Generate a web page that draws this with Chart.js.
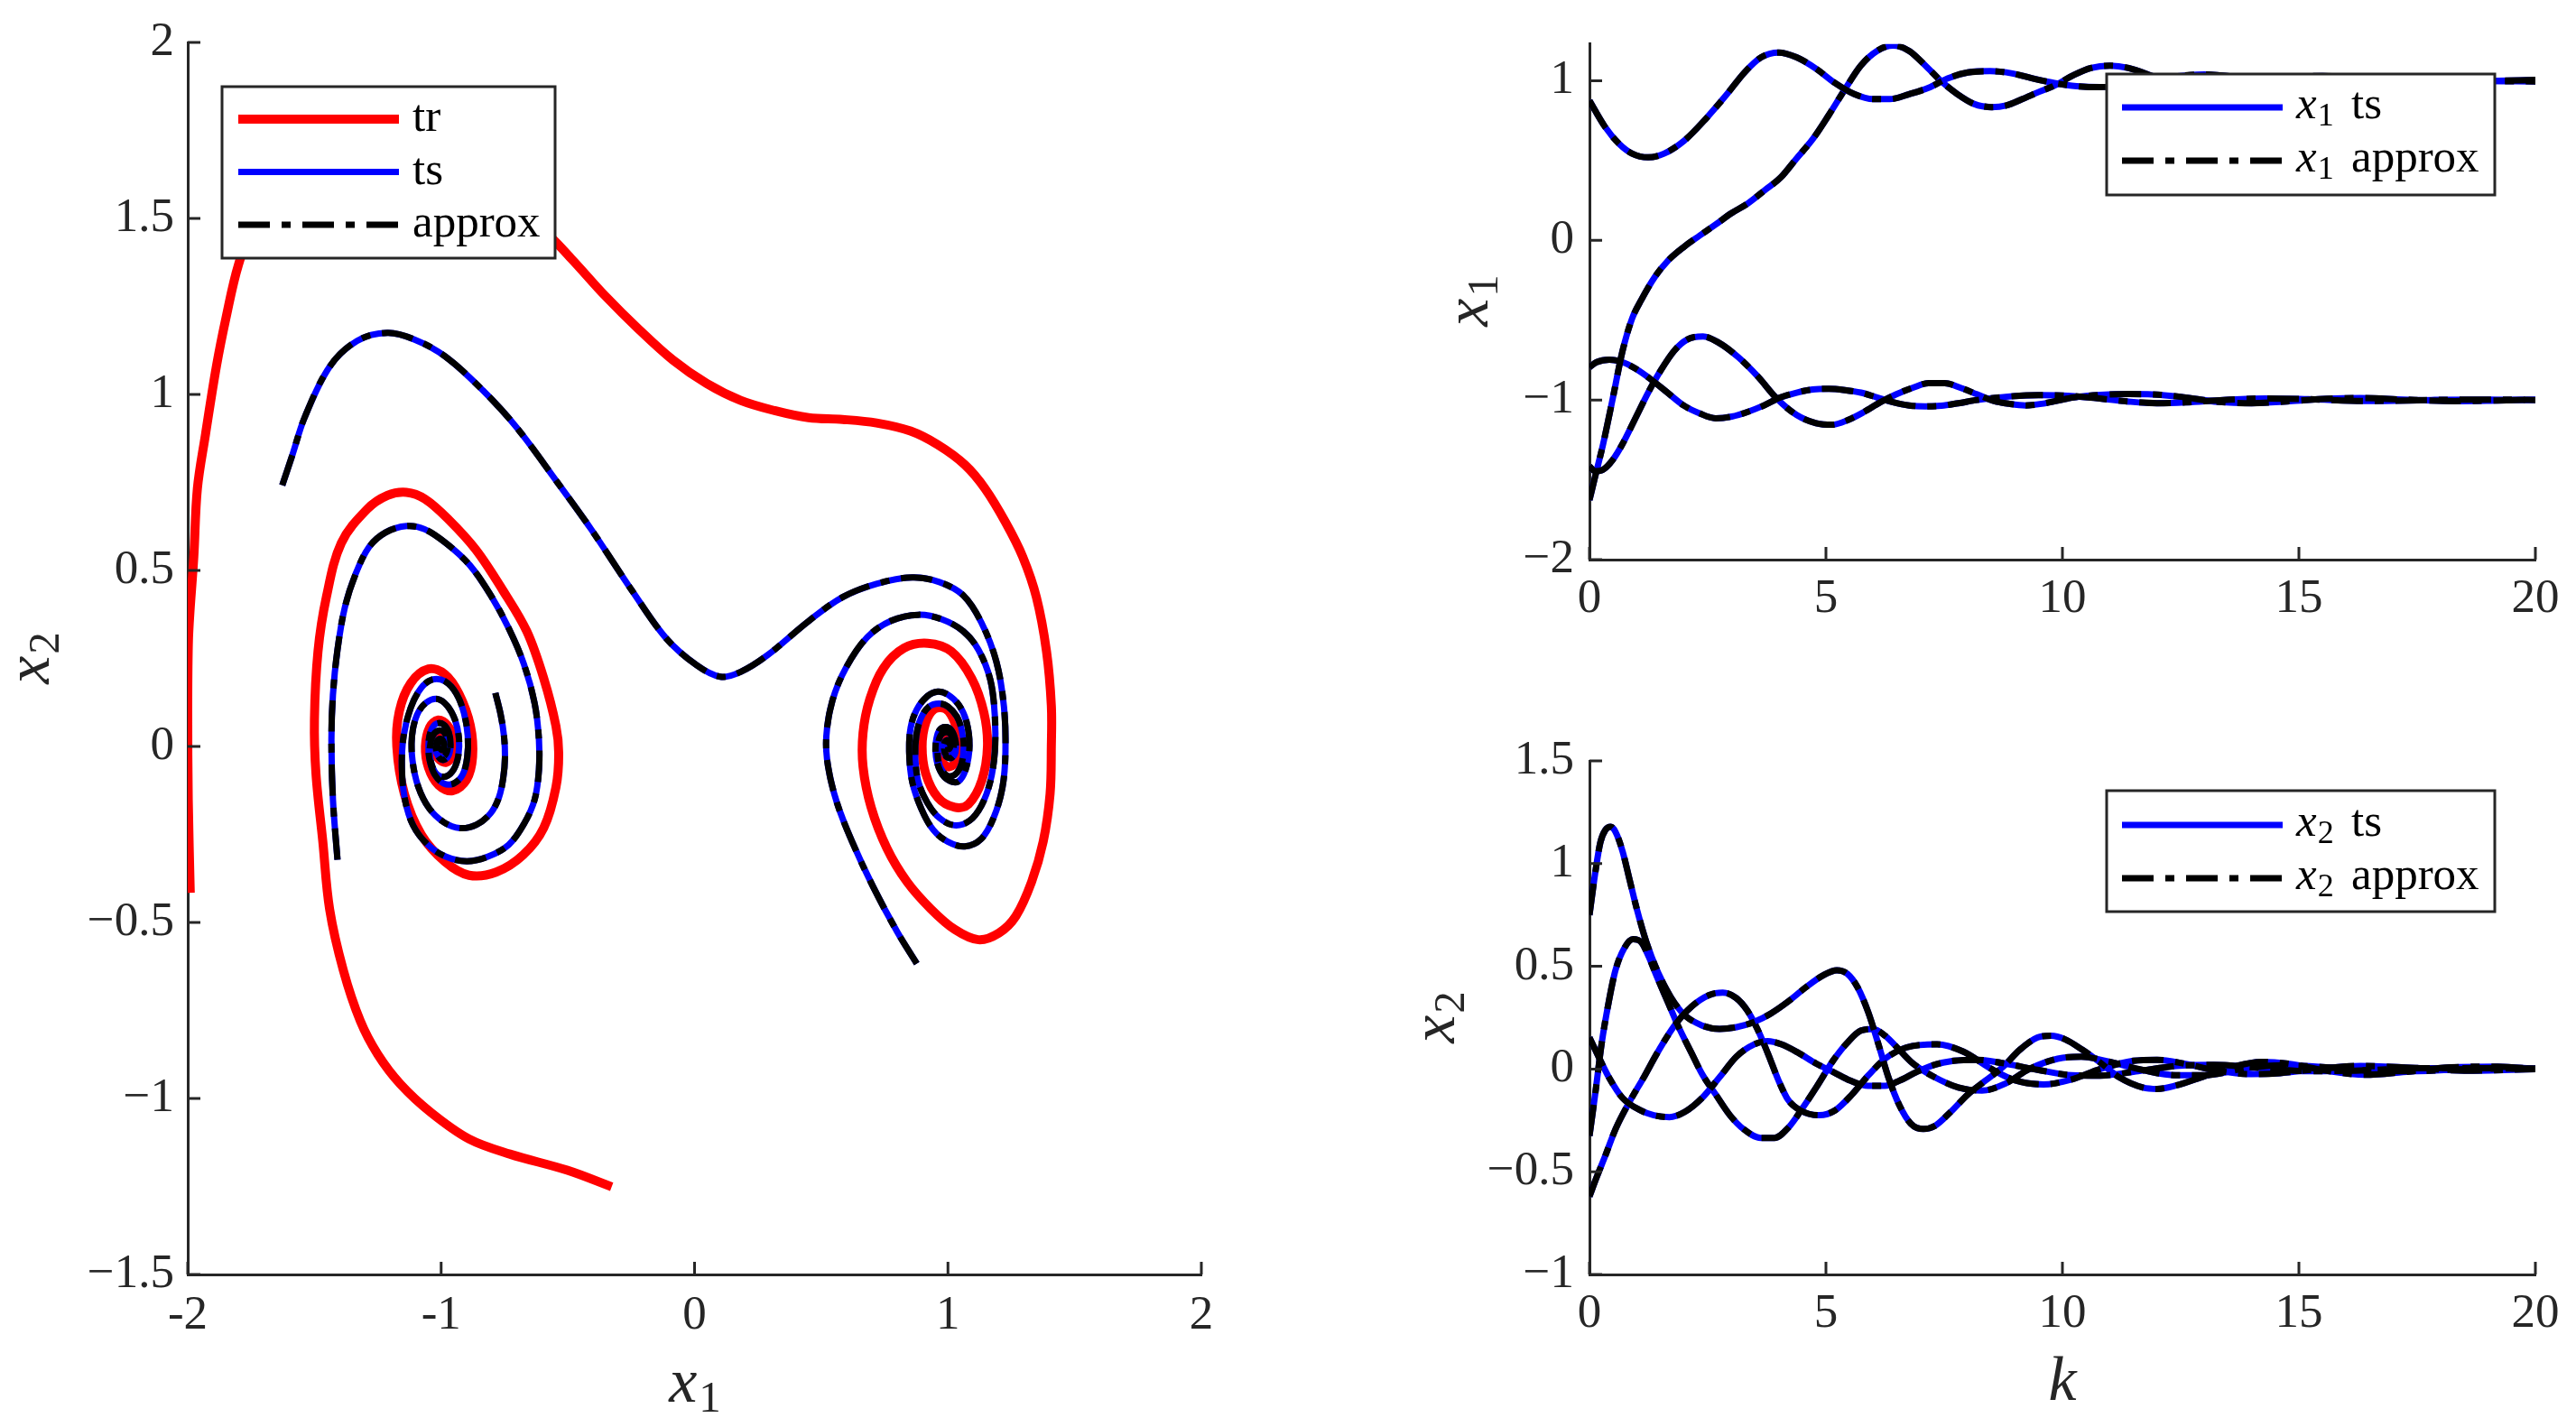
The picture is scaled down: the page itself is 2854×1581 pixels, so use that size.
<!DOCTYPE html>
<html><head><meta charset="utf-8">
<script src="https://cdn.jsdelivr.net/npm/chart.js@4.4.1/dist/chart.umd.min.js"></script>
<style>
html,body{margin:0;padding:0;background:#fff;}
body{width:2854px;height:1581px;position:relative;overflow:hidden;}
canvas{position:absolute;display:block;}
</style></head>
<body>
<canvas id="cPhase" width="1420" height="1581" style="left:0;top:0;width:1420px;height:1581px"></canvas>
<canvas id="cX1" width="1354" height="700" style="left:1500px;top:0;width:1354px;height:700px"></canvas>
<canvas id="cX2" width="1354" height="821" style="left:1500px;top:760px;width:1354px;height:821px"></canvas>
<script>
// ===================== DATA =====================
// Phase portrait: training trajectories (tr)
const trA_x1 = [-1.990,-1.998,-2.000,-1.997,-1.976,-1.962,-1.930,-1.887,-1.850,-1.800,-1.720,-1.600,-1.400,-1.200,-1.000,-0.800,-0.595,-0.488,-0.354,-0.220,-0.086,0.048,0.182,0.316,0.450,0.584,0.718,0.852,0.960,1.067,1.147,1.228,1.295,1.349,1.389,1.408,1.408,1.403,1.376,1.330,1.268,1.201,1.120,1.027,0.933,0.839,0.759,0.697,0.665,0.665,0.692,0.745,0.826,0.920,1.013,1.094,1.142,1.156,1.134,1.081,1.027,0.960,0.912,0.898,0.912,0.946,0.992,1.027,1.046,1.035,1.005,0.978,0.965,0.970,0.990,1.010,1.018,1.010,0.997,0.990,0.997,1.003];
const trA_x2 = [-0.416,-0.150,0.100,0.308,0.539,0.732,0.886,1.079,1.214,1.368,1.520,1.620,1.680,1.670,1.630,1.560,1.464,1.387,1.281,1.185,1.098,1.031,0.983,0.954,0.934,0.929,0.919,0.896,0.857,0.800,0.732,0.636,0.539,0.424,0.270,0.116,0.000,-0.135,-0.270,-0.385,-0.482,-0.530,-0.549,-0.520,-0.462,-0.385,-0.289,-0.173,-0.058,0.039,0.135,0.222,0.279,0.293,0.270,0.193,0.096,0.000,-0.096,-0.164,-0.173,-0.145,-0.077,0.000,0.067,0.106,0.106,0.067,0.000,-0.040,-0.058,-0.045,-0.010,0.022,0.035,0.025,0.000,-0.015,-0.018,-0.005,0.006,0.000];
const trB_x1 = [-0.327,-0.502,-0.729,-0.890,-1.040,-1.160,-1.250,-1.319,-1.386,-1.440,-1.467,-1.494,-1.500,-1.486,-1.453,-1.394,-1.292,-1.212,-1.137,-1.064,-0.971,-0.863,-0.756,-0.662,-0.595,-0.547,-0.536,-0.547,-0.595,-0.676,-0.783,-0.890,-0.984,-1.078,-1.145,-1.175,-1.165,-1.120,-1.050,-0.985,-0.930,-0.885,-0.876,-0.900,-0.955,-1.010,-1.050,-1.062,-1.045,-1.012,-0.975,-0.950,-0.955,-0.980,-1.010,-1.025,-1.015,-0.995,-0.982,-0.988,-1.000,-1.004,-1.000];
const trB_x2 = [-1.251,-1.204,-1.158,-1.115,-1.040,-0.960,-0.875,-0.780,-0.636,-0.463,-0.270,-0.077,0.077,0.270,0.424,0.578,0.674,0.713,0.722,0.703,0.645,0.559,0.443,0.327,0.193,0.058,-0.019,-0.116,-0.231,-0.308,-0.357,-0.366,-0.328,-0.251,-0.135,0.000,0.100,0.180,0.220,0.205,0.150,0.060,-0.030,-0.095,-0.126,-0.110,-0.060,0.000,0.055,0.075,0.060,0.020,-0.025,-0.045,-0.035,-0.005,0.022,0.028,0.010,-0.012,-0.010,0.002,0.000];

// Phase portrait: test trajectories (ts, approx overlaps)
const ts1_x1 = [-1.627,-1.587,-1.539,-1.440,-1.332,-1.212,-1.105,-0.984,-0.836,-0.702,-0.542,-0.408,-0.247,-0.113,0.008,0.102,0.182,0.289,0.450,0.584,0.718,0.859,0.966,1.061,1.132,1.191,1.221,1.227,1.215,1.180,1.132,1.067,1.000,0.942,0.895,0.859,0.847,0.853,0.877,0.919,0.960,1.000,1.043,1.073,1.085,1.070,1.040,1.000,0.970,0.953,0.952,0.965,0.990,1.015,1.030,1.030,1.015,0.995,0.983,0.985,0.997,1.008,1.010,1.003,1.000];
const ts1_x2 = [0.742,0.828,0.934,1.079,1.152,1.175,1.156,1.108,1.012,0.906,0.751,0.617,0.443,0.308,0.231,0.198,0.212,0.260,0.356,0.424,0.462,0.480,0.467,0.429,0.352,0.241,0.113,-0.015,-0.117,-0.203,-0.262,-0.284,-0.271,-0.237,-0.177,-0.100,-0.015,0.054,0.105,0.143,0.156,0.147,0.118,0.071,0.002,-0.065,-0.100,-0.095,-0.070,-0.030,0.010,0.045,0.055,0.045,0.015,-0.015,-0.032,-0.030,-0.012,0.008,0.018,0.012,0.000,-0.008,0.000];
const ts2_x1 = [0.877,0.800,0.705,0.622,0.562,0.527,0.520,0.544,0.598,0.681,0.776,0.883,0.977,1.061,1.120,1.167,1.185,1.185,1.167,1.132,1.085,1.025,0.966,0.919,0.883,0.871,0.875,0.893,0.925,0.965,1.000,1.035,1.055,1.062,1.055,1.035,1.005,0.978,0.962,0.960,0.970,0.990,1.010,1.022,1.020,1.008,0.992,0.985,0.990,1.000,1.006,1.000];
const ts2_x2 = [-0.617,-0.527,-0.399,-0.271,-0.160,-0.057,0.028,0.130,0.224,0.310,0.357,0.374,0.361,0.327,0.275,0.190,0.088,-0.015,-0.100,-0.168,-0.211,-0.224,-0.203,-0.160,-0.100,-0.030,0.030,0.080,0.113,0.122,0.113,0.085,0.045,0.000,-0.045,-0.075,-0.085,-0.070,-0.040,0.000,0.030,0.040,0.035,0.012,-0.015,-0.028,-0.024,-0.008,0.008,0.012,0.004,0.000];
const ts3_x1 = [-1.409,-1.427,-1.433,-1.427,-1.409,-1.380,-1.338,-1.285,-1.219,-1.136,-1.065,-0.982,-0.887,-0.804,-0.733,-0.673,-0.631,-0.614,-0.614,-0.631,-0.673,-0.733,-0.815,-0.898,-0.982,-1.053,-1.110,-1.143,-1.155,-1.148,-1.120,-1.080,-1.035,-0.985,-0.940,-0.910,-0.895,-0.897,-0.915,-0.950,-0.990,-1.025,-1.045,-1.050,-1.040,-1.018,-0.990,-0.970,-0.963,-0.970,-0.990,-1.010,-1.020,-1.016,-1.002,-0.990,-0.990,-0.998,-1.004,-1.000];
const ts3_x2 = [-0.322,-0.151,0.019,0.147,0.275,0.395,0.489,0.566,0.608,0.626,0.617,0.578,0.515,0.429,0.335,0.233,0.122,0.019,-0.066,-0.151,-0.220,-0.279,-0.313,-0.326,-0.313,-0.279,-0.225,-0.150,-0.060,0.030,0.110,0.165,0.190,0.185,0.150,0.095,0.030,-0.030,-0.080,-0.105,-0.105,-0.080,-0.040,0.005,0.045,0.065,0.062,0.040,0.005,-0.025,-0.038,-0.030,-0.008,0.015,0.022,0.012,-0.005,-0.010,-0.002,0.000];
const ts4_x1 = [-0.786,-0.765,-0.752,-0.748,-0.755,-0.772,-0.805,-0.860,-0.925,-0.990,-1.048,-1.090,-1.113,-1.115,-1.095,-1.058,-1.015,-0.975,-0.945,-0.930,-0.932,-0.950,-0.980,-1.015,-1.038,-1.045,-1.035,-1.012,-0.988,-0.975,-0.977,-0.993,-1.012,-1.020,-1.012,-0.998,-0.992,-1.000,-1.000];
const ts4_x2 = [0.152,0.090,0.030,-0.030,-0.090,-0.145,-0.190,-0.222,-0.232,-0.215,-0.175,-0.115,-0.040,0.030,0.090,0.125,0.135,0.115,0.075,0.025,-0.025,-0.065,-0.085,-0.080,-0.050,-0.010,0.028,0.045,0.040,0.015,-0.015,-0.030,-0.025,-0.005,0.012,0.015,0.003,-0.005,0.000];

// Time series of x1 (top right)
const kA1 = [0,0.12,0.29,0.49,0.7,0.9,1.1,1.38,1.65,2.0,2.33,2.67,3.0,3.35,3.7,4.04,4.38,4.72,5.06,5.4,5.74,6.08,6.42,6.76,7.1,7.44,7.78,8.13,8.5,8.81,9.15,9.5,9.83,10.24,10.6,11.0,11.4,12.0,12.6,13.2,13.8,14.5,15.5,16.5,17.8,19.0,20.0];
const vA1 = [-1.627,-1.48,-1.275,-0.994,-0.692,-0.491,-0.371,-0.23,-0.13,-0.04,0.03,0.1,0.17,0.232,0.313,0.393,0.514,0.634,0.785,0.946,1.096,1.187,1.221,1.187,1.096,0.996,0.916,0.855,0.835,0.845,0.885,0.93,0.97,1.036,1.08,1.095,1.08,1.02,0.97,0.955,0.97,1.01,1.03,1.01,0.985,0.998,1.005];
const kB1 = [0,0.32,0.63,0.9,1.24,1.58,2.0,2.47,2.88,3.29,3.63,4.0,4.38,4.79,5.19,5.6,6.0,6.35,6.76,7.17,7.58,8.0,8.47,8.94,9.35,9.83,10.3,10.8,11.4,12.2,13.0,13.8,14.6,15.3,16.2,17.5,18.7,20.0];
const vB1 = [0.875,0.715,0.604,0.544,0.52,0.544,0.624,0.765,0.906,1.056,1.147,1.177,1.147,1.076,0.986,0.916,0.885,0.885,0.916,0.956,1.016,1.052,1.06,1.046,1.016,0.986,0.966,0.96,0.975,1.02,1.04,1.02,0.99,0.982,0.995,1.012,1.0,0.996];
const kC1 = [0,0.12,0.29,0.49,0.7,0.97,1.24,1.51,1.79,2.06,2.4,2.74,3.15,3.56,3.97,4.38,4.79,5.13,5.47,5.81,6.15,6.49,6.83,7.17,7.51,7.85,8.19,8.53,8.88,9.22,9.56,9.9,10.24,10.8,11.4,11.9,12.5,13.3,14.0,14.8,15.6,16.3,17.2,18.3,19.2,20.0];
const vC1 = [-1.416,-1.446,-1.436,-1.376,-1.275,-1.115,-0.954,-0.813,-0.692,-0.622,-0.602,-0.642,-0.733,-0.853,-0.994,-1.094,-1.145,-1.155,-1.125,-1.074,-1.014,-0.964,-0.924,-0.894,-0.894,-0.924,-0.964,-1.004,-1.024,-1.034,-1.024,-1.004,-0.984,-0.968,-0.963,-0.965,-0.98,-1.012,-1.02,-1.008,-0.992,-0.988,-0.997,-1.007,-1.003,-0.998];
const kD1 = [0,0.15,0.42,0.7,0.97,1.31,1.65,1.99,2.33,2.67,3.01,3.35,3.69,4.04,4.38,4.72,5.06,5.4,5.74,6.08,6.42,6.76,7.1,7.44,7.8,8.2,8.8,9.5,10.0,10.6,11.4,12.0,12.6,13.4,14.3,15.2,16.5,17.8,19.0,20.0];
const vD1 = [-0.795,-0.763,-0.747,-0.763,-0.803,-0.873,-0.954,-1.034,-1.084,-1.115,-1.104,-1.074,-1.034,-0.984,-0.954,-0.934,-0.93,-0.938,-0.954,-0.984,-1.014,-1.034,-1.04,-1.036,-1.02,-1.0,-0.98,-0.97,-0.972,-0.985,-1.01,-1.02,-1.015,-1.0,-0.99,-0.995,-1.006,-1.0,-0.997,-1.0];

// Time series of x2 (bottom right)
const kA2 = [0,0.12,0.23,0.34,0.45,0.55,0.7,0.85,1.0,1.2,1.45,1.72,2.0,2.38,2.75,3.11,3.48,3.84,4.21,4.57,4.94,5.23,5.45,5.67,5.89,6.1,6.32,6.55,6.8,7.06,7.31,7.64,8.0,8.37,8.74,9.1,9.47,9.76,10.05,10.42,10.78,11.2,11.7,12.0,12.4,13.0,13.6,14.2,14.8,15.5,16.4,17.2,18.2,19.2,20.0];
const vA2 = [0.75,0.952,1.103,1.165,1.179,1.155,1.06,0.92,0.78,0.62,0.47,0.35,0.265,0.212,0.195,0.204,0.229,0.271,0.33,0.397,0.456,0.481,0.464,0.397,0.279,0.128,-0.04,-0.175,-0.267,-0.292,-0.276,-0.208,-0.124,-0.057,0.01,0.094,0.153,0.162,0.145,0.094,0.035,-0.04,-0.09,-0.097,-0.08,-0.035,0.01,0.035,0.025,-0.005,-0.028,-0.015,0.008,0.012,0.0];
const kB2 = [0,0.15,0.34,0.55,0.85,1.15,1.43,1.8,2.16,2.53,2.82,3.1,3.33,3.55,3.77,4.0,4.2,4.45,4.86,5.2,5.55,5.9,6.25,6.7,7.35,7.9,8.5,9.0,9.6,10.2,10.8,11.5,12.0,12.6,13.2,14.0,14.6,15.4,16.3,17.5,18.5,20.0];
const vB2 = [-0.62,-0.528,-0.419,-0.293,-0.158,-0.04,0.077,0.212,0.304,0.36,0.372,0.346,0.287,0.195,0.077,-0.057,-0.15,-0.2,-0.225,-0.2,-0.124,-0.03,0.05,0.105,0.12,0.085,0.0,-0.055,-0.075,-0.05,0.0,0.04,0.045,0.025,-0.005,-0.025,-0.02,0.0,0.015,0.005,-0.008,0.0];
const kC2 = [0,0.12,0.26,0.41,0.55,0.74,0.92,1.1,1.25,1.43,1.65,1.87,2.16,2.38,2.67,2.97,3.26,3.62,3.91,4.21,4.5,4.79,5.16,5.45,5.74,6.0,6.25,6.55,6.84,7.3,7.8,8.3,8.8,9.3,9.9,10.4,11.0,11.7,12.4,13.0,13.8,14.6,15.5,16.3,17.5,18.5,20.0];
const vC2 = [-0.326,-0.124,0.128,0.33,0.481,0.59,0.632,0.616,0.548,0.447,0.33,0.212,0.077,-0.024,-0.124,-0.225,-0.293,-0.335,-0.335,-0.284,-0.192,-0.091,0.044,0.128,0.187,0.195,0.162,0.094,0.027,-0.04,-0.09,-0.105,-0.07,0.0,0.05,0.06,0.035,-0.005,-0.03,-0.03,0.0,0.018,0.01,-0.005,-0.01,0.0,0.003];
const kD2 = [0,0.19,0.41,0.7,1.07,1.36,1.69,2.02,2.38,2.75,3.11,3.48,3.77,4.06,4.43,4.79,5.16,5.52,5.89,6.25,6.55,6.91,7.27,7.7,8.2,8.7,9.5,10.2,10.8,11.6,12.4,13.2,14.2,15.2,16.2,17.5,18.8,20.0];
const vD2 = [0.153,0.061,-0.04,-0.141,-0.2,-0.225,-0.234,-0.208,-0.141,-0.04,0.061,0.12,0.136,0.12,0.077,0.027,-0.015,-0.057,-0.082,-0.082,-0.057,-0.015,0.019,0.04,0.045,0.03,-0.005,-0.03,-0.032,-0.01,0.015,0.02,0.005,-0.01,-0.008,0.004,0.004,0.0];

// Ticks and labels
const phaseXTicks = [-2,-1,0,1,2];
const phaseXLabels = ['-2','-1','0','1','2'];
const phaseYTicks = [-1.5,-1,-0.5,0,0.5,1,1.5,2];
const phaseYLabels = ['\u22121.5','\u22121','\u22120.5','0','0.5','1','1.5','2'];
const kTicks = [0,5,10,15,20];
const kLabels = ['0','5','10','15','20'];
const x1Ticks = [-2,-1,0,1];
const x1Labels = ['\u22122','\u22121','0','1'];
const x2Ticks = [-1,-0.5,0,0.5,1,1.5];
const x2Labels = ['\u22121','\u22120.5','0','0.5','1','1.5'];
const phaseLegend = ['tr','ts','approx'];
const tsLegend = ['ts','approx'];

// ===================== STYLE / DRAWING =====================
const SERIF = '"Liberation Serif","DejaVu Serif",serif';
const AX = '#262626', RED = '#ff0000', BLUE = '#0000ff', BLACK = '#000000';
const DASH = [35,13,10,13];
const TICK_SIZE = 53;

function pts(xs, ys){ return xs.map((x,i)=>({x:x, y:ys[i]})); }
// order: lower value is drawn on top
function ds(data, color, width, dash, mono, order){
  return { data, borderColor:color, backgroundColor:color, borderWidth:width, borderDash:dash||[],
    borderCapStyle:'butt', borderJoinStyle:'round', pointRadius:0, pointHoverRadius:0, showLine:true, fill:false,
    tension: mono ? 0 : 0.35, cubicInterpolationMode: mono ? 'monotone' : 'default', order: order };
}

function drawMath(ctx, s, ox, oy){
  ctx.save();
  ctx.translate(s.x-ox, s.y-oy);
  if (s.rot) ctx.rotate(s.rot*Math.PI/180);
  const fMain = 'italic '+s.size+'px '+SERIF, fSub = Math.round(s.size*0.7)+'px '+SERIF;
  ctx.font = fMain; const w1 = ctx.measureText(s.base).width;
  let w2 = 0; if (s.sub){ ctx.font = fSub; w2 = ctx.measureText(s.sub).width; }
  const gap = s.sub ? s.size*0.03 : 0;
  const x0 = -(w1+gap+w2)/2;
  ctx.fillStyle = AX; ctx.textAlign='left'; ctx.textBaseline='alphabetic';
  ctx.font = fMain; ctx.fillText(s.base, x0, 0);
  if (s.sub){ ctx.font = fSub; ctx.fillText(s.sub, x0+w1+gap, s.size*0.15); }
  ctx.restore();
}

function drawLegend(ctx, L, ox, oy){
  const [x0,y0,x1,y1] = L.box;
  ctx.save();
  ctx.fillStyle = '#ffffff'; ctx.fillRect(x0-ox, y0-oy, x1-x0, y1-y0);
  ctx.strokeStyle = AX; ctx.lineWidth = 3; ctx.setLineDash([]); ctx.strokeRect(x0-ox, y0-oy, x1-x0, y1-y0);
  L.items.forEach(it=>{
    ctx.beginPath(); ctx.strokeStyle = it.color; ctx.lineWidth = it.width; ctx.lineCap='butt';
    ctx.setLineDash(it.dash||[]);
    ctx.moveTo(L.lx0-ox, it.y-oy); ctx.lineTo(L.lx1-ox, it.y-oy); ctx.stroke();
    ctx.setLineDash([]);
    const by = it.y-oy+L.baseOff;
    ctx.fillStyle = '#000'; ctx.textAlign='left'; ctx.textBaseline='alphabetic';
    let x = L.tx-ox;
    if (it.math){
      ctx.font = 'italic '+L.size+'px '+SERIF; ctx.fillText(it.math[0], x, by);
      x += ctx.measureText(it.math[0]).width + 1;
      ctx.font = Math.round(L.size*0.7)+'px '+SERIF; ctx.fillText(it.math[1], x, by+L.size*0.15);
      x = L.tx2-ox;
    }
    ctx.font = L.size+'px '+SERIF; ctx.fillText(it.text, x, by);
  });
  ctx.restore();
}

const annot = {
  id:'annot',
  afterDraw(chart, args, o){
    const ctx = chart.ctx, ca = chart.chartArea, xs = chart.scales.x, ys = chart.scales.y;
    ctx.save();
    ctx.strokeStyle = AX; ctx.lineWidth = 3; ctx.lineCap='butt'; ctx.setLineDash([]);
    ctx.beginPath();
    xs.ticks.forEach(t=>{ const p = xs.getPixelForValue(t.value); ctx.moveTo(p, ca.bottom); ctx.lineTo(p, ca.bottom-14); });
    ys.ticks.forEach(t=>{ const p = ys.getPixelForValue(t.value); ctx.moveTo(ca.left, p); ctx.lineTo(ca.left+14, p); });
    ctx.stroke();
    ctx.restore();
    if (o.legend) drawLegend(ctx, o.legend, o.ox, o.oy);
    (o.titles||[]).forEach(t=>drawMath(ctx, t, o.ox, o.oy));
  }
};

function axis(min, max, ticks, labels, fitProp, fitVal, pad){
  return {
    type:'linear', min:min, max:max,
    afterBuildTicks: s=>{ s.ticks = ticks.map(v=>({value:v})); },
    afterFit: s=>{ s[fitProp] = fitVal; },
    grid:{display:false, drawTicks:false},
    border:{display:true, color:AX, width:3},
    ticks:{ padding:pad, color:AX, font:{family:SERIF, size:TICK_SIZE}, autoSkip:false, maxRotation:0,
      callback:(v,i)=> labels[i] }
  };
}

function makeChart(id, cfg){
  return new Chart(document.getElementById(id), {
    type:'scatter',
    data:{ datasets: cfg.datasets },
    options:{
      responsive:false, maintainAspectRatio:false, animation:false, devicePixelRatio:1, events:[],
      layout:{ padding:{ left:0, top:cfg.padTop, right:cfg.padRight, bottom:0 } },
      scales:{ x: cfg.x, y: cfg.y },
      plugins:{ legend:{display:false}, tooltip:{enabled:false}, annot: cfg.annot }
    },
    plugins:[annot]
  });
}

// ---------- Phase portrait ----------
const phaseSets = [
  ds(pts(trA_x1,trA_x2), RED, 10, null, false, 3),
  ds(pts(trB_x1,trB_x2), RED, 10, null, false, 3),
  ds(pts(ts1_x1,ts1_x2), BLUE, 7, null, false, 2),
  ds(pts(ts2_x1,ts2_x2), BLUE, 7, null, false, 2),
  ds(pts(ts3_x1,ts3_x2), BLUE, 7, null, false, 2),
  ds(pts(ts4_x1,ts4_x2), BLUE, 7, null, false, 2),
  ds(pts(ts1_x1,ts1_x2), BLACK, 7, DASH, false, 1),
  ds(pts(ts2_x1,ts2_x2), BLACK, 7, DASH, false, 1),
  ds(pts(ts3_x1,ts3_x2), BLACK, 7, DASH, false, 1),
  ds(pts(ts4_x1,ts4_x2), BLACK, 7, DASH, false, 1)
];
makeChart('cPhase', {
  datasets: phaseSets, padTop:47, padRight:89,
  x: axis(-2, 2, phaseXTicks, phaseXLabels, 'height', 169, 14),
  y: axis(-1.5, 2, phaseYTicks, phaseYLabels, 'width', 208, 15),
  annot: { ox:0, oy:0,
    legend:{ box:[246,96,615,286], lx0:264, lx1:442, tx:457, size:51, baseOff:13,
      items:[ {y:132, color:RED, width:10, text:phaseLegend[0]},
              {y:190.5, color:BLUE, width:7, text:phaseLegend[1]},
              {y:249, color:BLACK, width:7, dash:DASH, text:phaseLegend[2]} ] },
    titles:[ {x:770, y:1553, base:'x', sub:'1', size:70},
             {x:54, y:729, base:'x', sub:'2', size:70, rot:-90} ] }
});

// ---------- x1 time series ----------
makeChart('cX1', {
  datasets: [
    ds(pts(kA1,vA1), BLUE, 7, null, true, 2), ds(pts(kB1,vB1), BLUE, 7, null, true, 2),
    ds(pts(kC1,vC1), BLUE, 7, null, true, 2), ds(pts(kD1,vD1), BLUE, 7, null, true, 2),
    ds(pts(kA1,vA1), BLACK, 7, DASH, true, 1), ds(pts(kB1,vB1), BLACK, 7, DASH, true, 1),
    ds(pts(kC1,vC1), BLACK, 7, DASH, true, 1), ds(pts(kD1,vD1), BLACK, 7, DASH, true, 1)
  ],
  padTop:46, padRight:45,
  x: axis(0, 20, kTicks, kLabels, 'height', 80, 12),
  y: axis(-2, 1.23, x1Ticks, x1Labels, 'width', 261, 17),
  annot: { ox:1500, oy:0,
    legend:{ box:[2334,82,2764,216], lx0:2351, lx1:2529, tx:2544, tx2:2605, size:51, baseOff:12,
      items:[ {y:119, color:BLUE, width:7, math:['x','1'], text:tsLegend[0]},
              {y:178, color:BLACK, width:7, dash:DASH, math:['x','1'], text:tsLegend[1]} ] },
    titles:[ {x:1648, y:333, base:'x', sub:'1', size:70, rot:-90} ] }
});

// ---------- x2 time series ----------
makeChart('cX2', {
  datasets: [
    ds(pts(kA2,vA2), BLUE, 7, null, true, 2), ds(pts(kB2,vB2), BLUE, 7, null, true, 2),
    ds(pts(kC2,vC2), BLUE, 7, null, true, 2), ds(pts(kD2,vD2), BLUE, 7, null, true, 2),
    ds(pts(kA2,vA2), BLACK, 7, DASH, true, 1), ds(pts(kB2,vB2), BLACK, 7, DASH, true, 1),
    ds(pts(kC2,vC2), BLACK, 7, DASH, true, 1), ds(pts(kD2,vD2), BLACK, 7, DASH, true, 1)
  ],
  padTop:83, padRight:45,
  x: axis(0, 20, kTicks, kLabels, 'height', 169, 12),
  y: axis(-1, 1.5, x2Ticks, x2Labels, 'width', 261, 17),
  annot: { ox:1500, oy:760,
    legend:{ box:[2334,876,2764,1010], lx0:2351, lx1:2529, tx:2544, tx2:2605, size:51, baseOff:12,
      items:[ {y:914, color:BLUE, width:7, math:['x','2'], text:tsLegend[0]},
              {y:973, color:BLACK, width:7, dash:DASH, math:['x','2'], text:tsLegend[1]} ] },
    titles:[ {x:1611, y:1127, base:'x', sub:'2', size:70, rot:-90},
             {x:2285, y:1551, base:'k', size:70} ] }
});
</script>
</body></html>
